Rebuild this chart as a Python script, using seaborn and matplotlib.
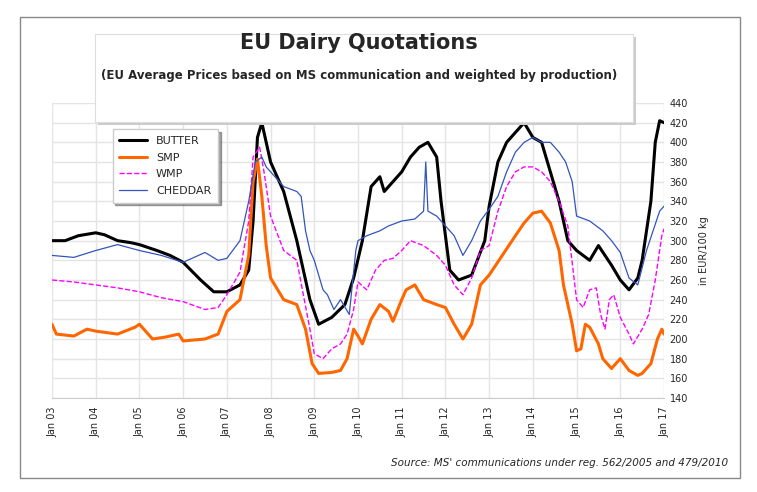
import matplotlib
matplotlib.use("Agg")
import matplotlib.pyplot as plt
import seaborn as sns
import pandas as pd
from matplotlib.patches import Rectangle

butter_t = [2003.0,2003.3,2003.6,2004.0,2004.2,2004.5,2004.8,2005.0,2005.4,2005.7,2006.0,2006.4,2006.7,2007.0,2007.3,2007.5,2007.6,2007.7,2007.8,2007.9,2008.0,2008.3,2008.6,2008.9,2009.1,2009.4,2009.7,2009.9,2010.1,2010.3,2010.5,2010.6,2010.8,2011.0,2011.2,2011.4,2011.6,2011.8,2011.9,2012.1,2012.3,2012.6,2012.9,2013.0,2013.2,2013.4,2013.6,2013.8,2014.0,2014.2,2014.4,2014.6,2014.8,2015.0,2015.3,2015.5,2015.8,2016.0,2016.2,2016.4,2016.5,2016.7,2016.8,2016.9,2017.0]
butter_v = [300,300,305,308,306,300,298,296,290,285,278,260,248,248,255,270,320,405,420,400,380,350,300,240,215,222,235,262,300,355,365,350,360,370,385,395,400,385,340,270,260,265,300,335,380,400,410,420,405,400,370,340,300,290,280,295,275,260,250,262,280,340,400,422,420]

smp_t = [2003.0,2003.1,2003.5,2003.8,2004.0,2004.5,2004.9,2005.0,2005.3,2005.6,2005.9,2006.0,2006.5,2006.8,2007.0,2007.3,2007.5,2007.6,2007.7,2007.8,2007.9,2008.0,2008.3,2008.6,2008.8,2008.95,2009.1,2009.4,2009.6,2009.75,2009.9,2010.0,2010.1,2010.3,2010.5,2010.7,2010.8,2011.0,2011.1,2011.3,2011.5,2011.8,2012.0,2012.2,2012.4,2012.6,2012.8,2013.0,2013.3,2013.6,2013.8,2014.0,2014.2,2014.4,2014.6,2014.7,2014.9,2015.0,2015.1,2015.2,2015.3,2015.5,2015.6,2015.8,2016.0,2016.2,2016.4,2016.5,2016.7,2016.85,2016.95,2017.0]
smp_v = [215,205,203,210,208,205,212,215,200,202,205,198,200,205,228,240,285,360,383,345,295,262,240,235,210,175,165,166,168,180,210,203,195,220,235,228,218,240,250,255,240,235,232,215,200,215,255,265,285,305,318,328,330,318,290,255,215,188,190,215,212,195,180,170,180,168,163,165,175,200,210,205]

wmp_t = [2003.0,2003.5,2004.0,2004.5,2005.0,2005.5,2006.0,2006.5,2006.8,2007.0,2007.3,2007.5,2007.6,2007.75,2007.85,2008.0,2008.3,2008.6,2008.75,2008.9,2009.0,2009.2,2009.4,2009.6,2009.75,2009.9,2010.0,2010.2,2010.4,2010.6,2010.8,2011.0,2011.2,2011.5,2011.8,2012.0,2012.2,2012.4,2012.6,2012.8,2013.0,2013.2,2013.4,2013.6,2013.8,2014.0,2014.2,2014.4,2014.6,2014.8,2015.0,2015.15,2015.3,2015.45,2015.55,2015.65,2015.75,2015.85,2016.0,2016.2,2016.3,2016.5,2016.65,2016.8,2016.95,2017.0]
wmp_v = [260,258,255,252,248,242,238,230,232,245,268,320,385,395,370,325,290,280,245,210,185,180,190,195,205,230,258,250,270,280,282,290,300,295,285,275,255,245,262,290,295,330,355,370,375,375,370,360,340,315,240,232,250,252,225,210,240,245,222,205,195,210,225,260,305,312]

ched_t = [2003.0,2003.5,2004.0,2004.5,2005.0,2005.5,2006.0,2006.5,2006.8,2007.0,2007.3,2007.5,2007.65,2007.8,2007.9,2008.0,2008.3,2008.6,2008.7,2008.8,2008.9,2009.0,2009.2,2009.3,2009.45,2009.6,2009.8,2009.95,2010.0,2010.2,2010.5,2010.7,2011.0,2011.3,2011.5,2011.55,2011.6,2011.8,2012.0,2012.2,2012.4,2012.6,2012.8,2013.0,2013.2,2013.4,2013.6,2013.8,2014.0,2014.2,2014.4,2014.6,2014.75,2014.9,2015.0,2015.3,2015.6,2015.8,2016.0,2016.2,2016.4,2016.6,2016.75,2016.9,2017.0]
ched_v = [285,283,290,296,290,285,278,288,280,282,300,340,380,385,375,370,355,350,345,310,290,280,250,245,230,240,225,290,300,305,310,315,320,322,330,380,330,325,315,305,285,300,320,332,345,370,390,400,405,400,400,390,380,360,325,320,310,300,288,262,255,290,310,330,335]

series = [("BUTTER", butter_t, butter_v, "black", 2.2, "-"),
          ("SMP", smp_t, smp_v, "#ff6600", 2.2, "-"),
          ("WMP", wmp_t, wmp_v, "#ff00ff", 1.0, "--"),
          ("CHEDDAR", ched_t, ched_v, "#3355bb", 0.9, "-")]
years = list(range(2003, 2018))
year_labels = [f"Jan {y % 100:02d}" for y in years]

sns.set_style("white")
plt.rcParams['font.family'] = ['Verdana', 'DejaVu Sans']
fig = plt.figure(figsize=(7.57, 4.92), dpi=100)

# outer frame
fig.patches.append(Rectangle((20/757, 1-478/492), 720/757, 461/492, transform=fig.transFigure,
                             fill=False, edgecolor="#888888", lw=1))
# title box with shadow
fig.patches.append(Rectangle((98/757, 1-125/492), 538/757, 88/492, transform=fig.transFigure,
                             facecolor="#cccccc", edgecolor="none"))
fig.patches.append(Rectangle((95/757, 1-122/492), 538/757, 88/492, transform=fig.transFigure,
                             facecolor="white", edgecolor="#dddddd", lw=0.8))
fig.text(359/757, 1-43/492, "EU Dairy Quotations", ha="center", va="center", fontsize=15, fontweight="bold")
fig.text(359/757, 1-75/492, "(EU Average Prices based on MS communication and weighted by production)",
         ha="center", va="center", fontsize=8.5, fontweight="bold")
fig.text(728/757, 1-463/492, "Source: MS' communications under reg. 562/2005 and 479/2010",
         ha="right", va="center", fontsize=7.5, style="italic")

ax = fig.add_axes([52/757, 1-398/492, 612/757, 295/492])
for name, t, v, c, lw, ls in series:
    df = pd.DataFrame({"t": t, "v": v})
    sns.lineplot(data=df, x="t", y="v", ax=ax, color=c, lw=lw, ls=ls, label=name)

ax.set_xlim(2003, 2017)
ax.set_ylim(140, 440)
ax.set_xticks(years)
ax.set_xticklabels(year_labels, rotation=90, fontsize=7)
ax.set_yticks(range(140, 441, 20))
ax.yaxis.tick_right()
ax.yaxis.set_label_position("right")
ax.tick_params(axis="y", labelsize=7, length=0, pad=4)
ax.tick_params(axis="x", length=3, pad=3)
ax.set_xlabel("")
ax.set_ylabel("in EUR/100 kg", fontsize=7, labelpad=8)
ax.grid(True, color="#e4e4e4", lw=1)
for s in ["top", "right", "left"]:
    ax.spines[s].set_visible(False)
ax.spines["bottom"].set_color("#cccccc")

leg = ax.legend(loc="upper left", bbox_to_anchor=(0.09, 0.93), fontsize=8, frameon=True,
                fancybox=False, shadow=True, handlelength=2.5, borderpad=0.6, labelspacing=0.6)
leg.get_frame().set_edgecolor("#cccccc")

fig.savefig("out.png", dpi=100)
